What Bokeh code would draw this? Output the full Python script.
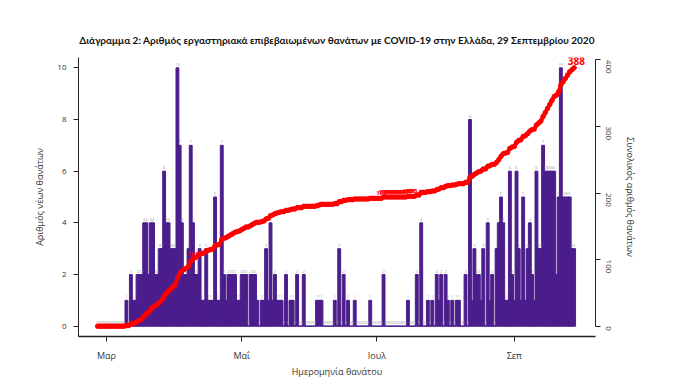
import numpy as np
import pandas as pd
from bokeh.plotting import figure
from bokeh.models import Range1d, LinearAxis, FixedTicker, ColumnDataSource
from bokeh.embed import file_html
from bokeh.resources import INLINE
from bokeh.core.properties import value

# ---- data -------------------------------------------------------------
dates = pd.date_range("2020-02-26", "2020-09-29", freq="D")
deaths = (
    [0] * 13
    + [1, 0, 2, 1, 1, 2, 2, 2, 4, 4, 2, 4, 4, 2, 2, 3, 3, 6, 4, 4, 3, 3, 3, 10, 7, 4, 2, 2, 3, 7, 4]
    + [2, 2, 3, 1, 1, 3, 1, 1, 1, 5, 1, 1, 7, 2, 1, 2, 2, 2]
    + [2, 1, 1, 2, 2, 2, 0, 2, 2, 2, 1, 0, 1, 1, 3, 1, 4, 1]
    + [2, 1, 1, 1, 0, 2, 0, 1, 1, 0, 2, 0, 0, 2, 0, 0]
    + [0, 0, 0, 1, 1, 1, 0, 0, 0, 0, 0, 1, 0, 3, 0, 2]
    + [0, 1, 0, 0, 1, 0, 0, 0, 0, 0, 0, 1, 0, 0, 0, 0, 0, 2]
    + [0, 0, 0, 0, 0, 0, 0, 0, 0, 0, 1, 0, 0, 0, 2, 0, 4]
    + [0, 0, 1, 0, 1, 0, 2, 1, 2, 0, 2, 1, 0, 1, 0, 1, 1]
    + [0, 0, 2, 0, 8, 1, 3, 2, 2, 1, 3, 0, 4, 1, 2, 0, 3]
    + [4, 5, 4, 1, 1, 6, 2, 1, 6]
    + [3, 1, 5, 1, 3, 4, 2, 1, 6]
    + [3, 3, 7, 6, 6, 6, 6, 6, 2, 5, 10, 5, 5, 5, 5, 3, 3]
)
month_starts = ["2020-03-01", "2020-05-01", "2020-07-01", "2020-09-01"]
month_labels = ["Μαρ", "Μαΐ", "Ιουλ", "Σεπ"]
left_ticks = [0, 2, 4, 6, 8, 10]
right_ticks = [0, 100, 200, 300, 400]
# days whose cumulative value is printed in red
red_label_dates = ["2020-04-09"] + [str(d.date()) for d in pd.date_range("2020-07-03", "2020-07-17")]

title_txt = "Διάγραμμα 2: Αριθμός εργαστηριακά επιβεβαιωμένων θανάτων με COVID-19 στην Ελλάδα, 29 Σεπτεμβρίου 2020"

# ---- derived -----------------------------------------------------------
origin = pd.Timestamp("2020-03-01")
x = np.asarray((dates - origin).days, dtype=float)
deaths = np.asarray(deaths)
cum = np.cumsum(deaths)

def padded(lo, hi, f=0.04):
    d = (hi - lo) * f
    return lo - d, hi + d

xlo, xhi = padded(x.min(), x.max())
ylo, yhi = padded(0, 10)
clo, chi = padded(0, cum.max())

FONT = "Open Sans"
PURPLE = "#4b1e8c"
RED = "#ff0000"

p = figure(frame_width=517, frame_height=279, output_backend="svg", toolbar_location=None,
           x_range=Range1d(xlo, xhi), y_range=Range1d(ylo, yhi),
           min_border_left=78, min_border_right=83, min_border_top=57, min_border_bottom=42,
           title=title_txt)
p.extra_y_ranges = {"cum": Range1d(clo, chi)}
p.outline_line_color = None
p.xgrid.grid_line_color = None
p.ygrid.grid_line_color = None
p.background_fill_color = "white"

p.title.align = "center"
p.title.text_font = "Lato"
p.title.text_font_size = "10px"
p.title.text_font_style = "bold"
p.title.text_color = "#111111"
p.title.standoff = 24

src = ColumnDataSource(dict(x=x, d=deaths, lab=[str(v) for v in deaths], cum=cum))

p.vbar(x="x", top="d", bottom=0, width=1.3, color=PURPLE, source=src)
p.text(x="x", y="d", text="lab", source=src, text_font=value(FONT), text_font_size="4px",
       text_color="#9a9a9a", text_align="center", text_baseline="bottom", y_offset=-2)

p.line(x="x", y="cum", source=src, y_range_name="cum", line_color=RED, line_width=4)
p.scatter(x="x", y="cum", source=src, y_range_name="cum", size=4.5, color=RED)

# red value labels
lab_idx = [int(np.where(dates == pd.Timestamp(d))[0][0]) for d in red_label_dates]
p.text(x=x[lab_idx], y=cum[lab_idx], text=[str(c) for c in cum[lab_idx]], y_range_name="cum",
       text_font=value(FONT), text_font_size="6px", text_font_style="bold", text_color=RED,
       text_align="center", text_baseline="bottom", y_offset=-3)
p.text(x=[x[-1]], y=[cum[-1]], text=[str(cum[-1])], y_range_name="cum",
       text_font=value(FONT), text_font_size="10px", text_font_style="bold", text_color=RED,
       text_align="center", text_baseline="bottom", y_offset=-3)

def style_axis(ax):
    ax.axis_line_color = "#222222"
    ax.major_tick_line_color = "#222222"
    ax.minor_tick_line_color = None
    ax.major_tick_in = 0
    ax.major_tick_out = 5
    ax.major_label_text_font = FONT
    ax.major_label_text_font_size = "8px"
    ax.major_label_text_color = "#333333"
    ax.axis_label_text_font = FONT
    ax.axis_label_text_font_size = "9px"
    ax.axis_label_text_font_style = "normal"
    ax.axis_label_text_color = "#333333"

month_ticks = [int((pd.Timestamp(m) - origin).days) for m in month_starts]
xa = p.xaxis[0]
xa.ticker = FixedTicker(ticks=month_ticks)
xa.major_label_overrides = {t: l for t, l in zip(month_ticks, month_labels)}
xa.axis_label = "Ημερομηνία θανάτου"
style_axis(xa)
xa.axis_line_width = 1.5
xa.major_label_standoff = 7
xa.axis_label_standoff = 0
xa.major_label_text_font_size = "9px"

ya = p.yaxis[0]
ya.ticker = FixedTicker(ticks=left_ticks)
ya.axis_label = "Αριθμός νέων θανάτων"
style_axis(ya)
ya.major_label_standoff = 7
ya.axis_label_standoff = 8

ra = LinearAxis(y_range_name="cum", ticker=FixedTicker(ticks=right_ticks), bounds=(0, 400),
                axis_label="Συνολικός αριθμός θανάτων")
style_axis(ra)
ra.major_label_orientation = -np.pi / 2
ra.major_label_standoff = 8
ra.axis_label_standoff = 7
p.add_layout(ra, "right")

open("out.html", "w").write(file_html(p, INLINE))
